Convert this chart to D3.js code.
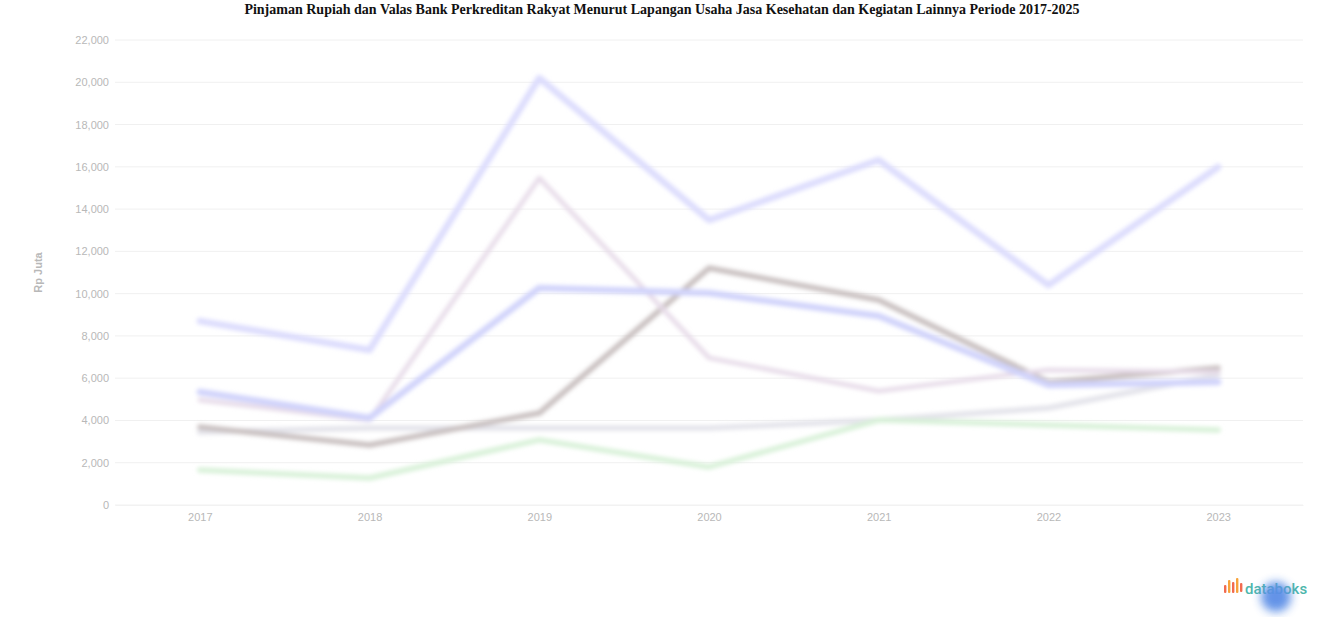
<!DOCTYPE html>
<html>
<head>
<meta charset="utf-8">
<script src="https://cdn.jsdelivr.net/npm/d3@7"></script>
<style>
  html, body { margin: 0; padding: 0; background: #fff; }
  svg { display: block; }
</style>
</head>
<body>
<svg id="chart" width="1324" height="617"></svg>
<script>
const years = ["2017", "2018", "2019", "2020", "2021", "2022", "2023"];
const yTicks = [0, 2000, 4000, 6000, 8000, 10000, 12000, 14000, 16000, 18000, 20000, 22000];
const seriesA = [8700, 7330, 20200, 13480, 16320, 10400, 15990];
const seriesB = [5350, 4120, 10270, 10030, 8940, 5680, 5820];
const seriesC = [4970, 4020, 15470, 6960, 5390, 6390, 6290];
const seriesD = [3690, 2840, 4350, 11210, 9700, 5820, 6480];
const seriesE = [3450, 3640, 3640, 3640, 4020, 4590, 6150];
const seriesF = [1660, 1280, 3080, 1800, 4020, 3790, 3550];
const seriesNames = ["A", "B", "C", "D", "E", "F"];
const seriesColors = ["#dcdcfd", "#d0d3fb", "#e6dae8", "#c8bfbf", "#e3e3ea", "#d8f1d8"];
const seriesWidths = [6.5, 6.5, 4.5, 5.5, 5.5, 5.5];

const title = "Pinjaman Rupiah dan Valas Bank Perkreditan Rakyat Menurut Lapangan Usaha Jasa Kesehatan dan Kegiatan Lainnya Periode 2017-2025";
const yTitle = "Rp Juta";

(function () {
const svg = d3.select("#chart");
const W = 1324, H = 617;
const mLeft = 115, mRight = 1303, mTop = 40, mBottom = 505;

const defs = svg.append("defs");
defs.append("filter").attr("id", "soft").attr("x", "-10%").attr("y", "-10%").attr("width", "120%").attr("height", "120%")
  .append("feGaussianBlur").attr("stdDeviation", 2.2);
defs.append("filter").attr("id", "blob").attr("x", "-50%").attr("y", "-50%").attr("width", "200%").attr("height", "200%")
  .append("feGaussianBlur").attr("stdDeviation", 5);

const x = d3.scalePoint().domain(years).range([mLeft, mRight]).padding(0.5);
const y = d3.scaleLinear().domain([0, 22000]).range([mBottom, mTop]);

// title
svg.append("text")
  .attr("x", W / 2).attr("y", 14)
  .attr("text-anchor", "middle")
  .style("font-family", "'Liberation Serif', 'Times New Roman', serif")
  .style("font-weight", "bold")
  .style("font-size", "14px")
  .attr("fill", "#111")
  .text(title);

// grid
const grid = svg.append("g");
grid.selectAll("line").data(yTicks).join("line")
  .attr("x1", mLeft).attr("x2", mRight)
  .attr("y1", d => y(d)).attr("y2", d => y(d))
  .attr("stroke", "#f0f0f0").attr("stroke-width", 1);

// y axis
const yAxis = svg.append("g").attr("transform", `translate(${mLeft - 4},0)`)
  .call(d3.axisLeft(y).tickValues(yTicks).tickSize(0).tickPadding(2).tickFormat(d3.format(",")));
yAxis.select(".domain").remove();
yAxis.selectAll("text")
  .style("font-family", "'Liberation Sans', Arial, sans-serif")
  .style("font-size", "11px")
  .attr("fill", "#b8b8b8");

// x axis
const xAxis = svg.append("g").attr("transform", `translate(0,${mBottom})`)
  .call(d3.axisBottom(x).tickSize(0).tickPadding(8));
xAxis.select(".domain").attr("stroke", "#f2f2f2");
xAxis.selectAll("text")
  .style("font-family", "'Liberation Sans', Arial, sans-serif")
  .style("font-size", "11px")
  .attr("fill", "#b8b8b8");

// y title
svg.append("text")
  .attr("transform", `translate(42,${(mTop + mBottom) / 2}) rotate(-90)`)
  .attr("text-anchor", "middle")
  .style("font-family", "'Liberation Sans', Arial, sans-serif")
  .style("font-size", "11px")
  .style("font-weight", "bold")
  .attr("fill", "#b8b8b8")
  .text(yTitle);

// lines
const allSeries = [seriesA, seriesB, seriesC, seriesD, seriesE, seriesF];
const line = d3.line().x((d, i) => x(years[i])).y(d => y(d));
const order = [4, 5, 3, 2, 1, 0];
const lines = svg.append("g").attr("filter", "url(#soft)");
order.forEach(k => {
  lines.append("path")
    .datum(allSeries[k])
    .attr("d", line)
    .attr("fill", "none")
    .attr("stroke", seriesColors[k])
    .attr("stroke-width", seriesWidths[k])
    .attr("stroke-linejoin", "round")
    .attr("stroke-linecap", "round")
    .attr("data-name", seriesNames[k]);
});

// databoks logo
const logo = svg.append("g").attr("transform", "translate(1224,588)");
const bars = [[0, 3, 8, "#f26b4f"], [4, -2, 13, "#f7a33b"], [8, 0, 11, "#f26b4f"], [12, -4, 15, "#f7a33b"], [16, 1, 9, "#f26b4f"]];
logo.selectAll("rect").data(bars).join("rect")
  .attr("x", d => d[0]).attr("y", d => d[1] - 6).attr("width", 2.4).attr("height", d => d[2])
  .attr("rx", 1).attr("fill", d => d[3]);
logo.append("text")
  .attr("x", 21).attr("y", 6)
  .style("font-family", "Roboto, 'Open Sans', sans-serif")
  .style("font-size", "15px")
  .style("font-weight", "500")
  .attr("fill", "#4db6ac")
  .text("databoks");
svg.append("circle")
  .attr("cx", 1276).attr("cy", 597).attr("r", 15)
  .attr("fill", "#5b8ee6").attr("opacity", 0.95)
  .attr("filter", "url(#blob)");
})();
</script>
</body>
</html>
